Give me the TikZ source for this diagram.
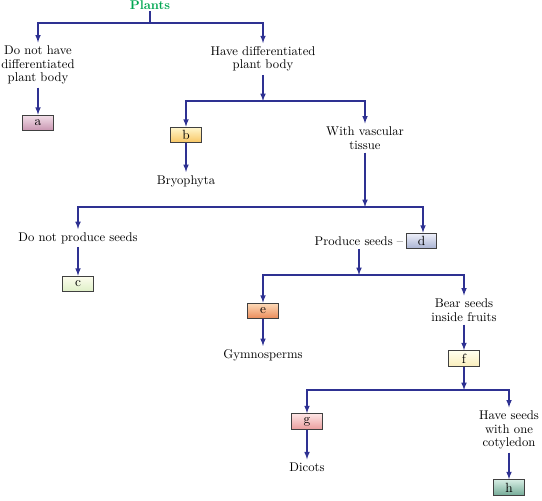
\documentclass[tikz,border=0pt]{standalone}
\usetikzlibrary{calc}
\definecolor{arrowblue}{RGB}{46,49,146}
\definecolor{plantgreen}{RGB}{0,166,81}
\begin{document}
\begin{tikzpicture}[x=0.75pt,y=-0.75pt,
  txt/.style={align=center,inner sep=1pt,outer sep=1.5pt,font=\fontsize{9.5}{10.2}\selectfont},
  box/.style={draw=black!75,line width=0.8pt,minimum width=23pt,minimum height=11.5pt,inner sep=0pt,outer sep=0.5pt,font=\fontsize{10}{10}\selectfont},
  arr/.style={draw=arrowblue,line width=0.9pt,-latex},
  link/.style={draw=arrowblue,line width=0.9pt}]
\useasboundingbox (0,0) rectangle (542,500);
\node[font=\fontsize{9.5}{10}\bfseries,text=plantgreen,inner sep=1pt] (plants) at (150,5) {Plants};
\node[txt] (nothave) at (38,65) {Do not have\\differentiated\\plant body};
\node[txt] (havediff) at (263,59) {Have differentiated\\plant body};
\node[box,top color={rgb,255:red,242;green,222;blue,232},bottom color={rgb,255:red,200;green,148;blue,176}] (a) at (38,123) {a};
\node[box,top color={rgb,255:red,255;green,246;blue,205},bottom color={rgb,255:red,248;green,198;blue,98}] (b) at (186,135) {b};
\node[txt] (vasc) at (365,138) {With vascular\\tissue};
\node[txt] (bryo) at (186,181) {Bryophyta};
\node[txt] (nosee) at (78,238) {Do not produce seeds};
\node[box,top color={rgb,255:red,252;green,253;blue,238},bottom color={rgb,255:red,222;green,238;blue,198}] (c) at (78,284) {c};
\node[txt] (prod) at (359,241) {Produce seeds --};
\node[box,top color={rgb,255:red,238;green,240;blue,250},bottom color={rgb,255:red,168;green,178;blue,210}] (d) at (421.5,241) {d};
\node[box,top color={rgb,255:red,253;green,218;blue,184},bottom color={rgb,255:red,234;green,138;blue,88}] (e) at (263,311) {e};
\node[txt] (gymno) at (263,355) {Gymnosperms};
\node[txt] (bear) at (464,310) {Bear seeds\\inside fruits};
\node[box,top color={rgb,255:red,255;green,255;blue,238},bottom color={rgb,255:red,250;green,238;blue,188}] (f) at (464,358.5) {f};
\node[box,top color={rgb,255:red,253;green,228;blue,228},bottom color={rgb,255:red,234;green,158;blue,158}] (g) at (307,421.5) {g};
\node[txt] (dicots) at (307,467) {Dicots};
\node[txt] (haveseed) at (509,430) {Have seeds\\with one\\cotyledon};
\node[box,top color={rgb,255:red,212;green,236;blue,226},bottom color={rgb,255:red,118;green,172;blue,152}] (h) at (509,487.5) {h};
\coordinate (s1) at (150,23);
\coordinate (s2) at (263,101);
\coordinate (s3) at (365,207);
\coordinate (s4) at (359,275);
\coordinate (s5) at (464,390);
\draw[link] (plants) -- (s1);
\draw[arr] (s1) -| (nothave);
\draw[arr] (s1) -| (havediff);
\draw[arr] (nothave) -- (a);
\draw[arr] (havediff) -- (s2);
\draw[arr] (s2) -| (b);
\draw[arr] (s2) -| (vasc);
\draw[arr] (b) -- (bryo);
\draw[arr] (vasc) -- (s3);
\draw[arr] (s3) -| (nosee);
\draw[arr] (s3) -| (d.north-|423,0);
\draw[arr] (nosee) -- (c);
\draw[arr] (prod) -- (s4);
\draw[arr] (s4) -| (e);
\draw[arr] (s4) -| (bear);
\draw[arr] (e) -- (gymno);
\draw[arr] (bear) -- (f);
\draw[arr] (f) -- (s5);
\draw[arr] (s5) -| (g);
\draw[arr] (s5) -| (haveseed);
\draw[arr] (g) -- (dicots);
\draw[arr] (haveseed) -- (h);
\end{tikzpicture}
\end{document}
